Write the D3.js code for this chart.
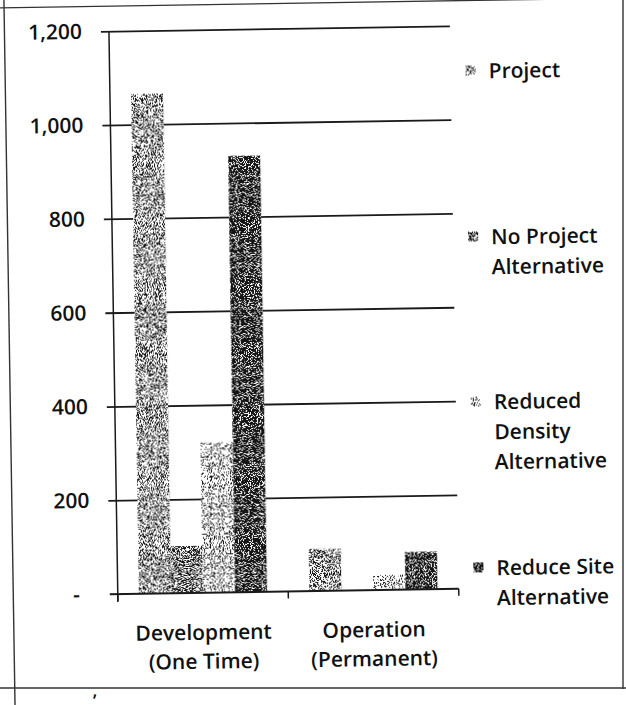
<!DOCTYPE html>
<html>
<head>
<meta charset="utf-8">
<script src="https://cdn.jsdelivr.net/npm/d3@7"></script>
<style>
  html, body { margin: 0; padding: 0; background: #fff; }
  svg { display: block; }
  text { font-family: "Open Sans", "Noto Sans", sans-serif; fill: #111; font-weight: 600; }
</style>
</head>
<body>
<script>
// ---- data ----
const categories = ["Development (One Time)", "Operation (Permanent)"];
const categoryLines = [["Development", "(One Time)"], ["Operation", "(Permanent)"]];
const seriesNames = ["Project", "No Project Alternative", "Reduced Density Alternative", "Reduce Site Alternative"];
const legendLines = [["Project"], ["No Project", "Alternative"], ["Reduced", "Density", "Alternative"], ["Reduce Site", "Alternative"]];
const projectValues = [1065, 90];
const noProjectValues = [100, 0];
const reducedDensityValues = [320, 32];
const reduceSiteValues = [930, 80];
const yTickValues = [0, 200, 400, 600, 800, 1000, 1200];
const yTickLabels = ["-", "200", "400", "600", "800", "1,000", "1,200"];

const seriesValues = [projectValues, noProjectValues, reducedDensityValues, reduceSiteValues];

// ---- layout & style ----
const W = 626, H = 705;
const plot = { left: 114, right: 455, top: 28, bottom: 591 };
const gridStart = 106;
const fontSize = 21;
// noise threshold per series: higher means more ink in the stipple
const inkThreshold = [0.487, 0.522, 0.452, 0.58];
const legendX = 493, swatchX = 470, swatchSize = 10, legendLineH = 30;
const legendRowY = [74, 240, 405, 571];

const svg = d3.select("body").append("svg")
  .attr("width", W).attr("height", H);

// grain filters: thresholded noise gives a stippled fill
const defs = svg.append("defs");
inkThreshold.forEach((t, i) => {
  const K = 30;
  const f = defs.append("filter")
    .attr("id", "grain" + i)
    .attr("x", 0).attr("y", 0).attr("width", 1).attr("height", 1)
    .attr("color-interpolation-filters", "sRGB");
  f.append("feTurbulence")
    .attr("type", "fractalNoise").attr("baseFrequency", 1.1)
    .attr("numOctaves", 1).attr("seed", 3 + i * 7).attr("result", "noise");
  f.append("feColorMatrix")
    .attr("in", "noise").attr("type", "matrix")
    .attr("values", `0 0 0 0 0  0 0 0 0 0  0 0 0 0 0  ${-K} 0 0 0 ${K * t}`)
    .attr("result", "mask");
  f.append("feFlood").attr("flood-color", "#141414").attr("result", "ink");
  f.append("feComposite").attr("in", "ink").attr("in2", "mask")
    .attr("operator", "in").attr("result", "dots");
  f.append("feComposite").attr("in", "dots").attr("in2", "SourceAlpha")
    .attr("operator", "in");
});

// right and bottom page edges stay upright
svg.append("line").attr("x1", 623).attr("x2", 623).attr("y1", 0).attr("y2", 689)
  .attr("stroke", "#333").attr("stroke-width", 1.4);
svg.append("line").attr("x1", 0).attr("x2", 626).attr("y1", 688).attr("y2", 688)
  .attr("stroke", "#333").attr("stroke-width", 1.4);

// the rest of the sheet sits at a slight tilt
const root = svg.append("g").attr("transform", "rotate(-0.9, 313, 352)");

// page frame
const frame = root.append("g").attr("stroke", "#333").attr("stroke-width", 1.4).attr("fill", "none");
frame.append("line").attr("x1", 9.5).attr("x2", 9.5).attr("y1", -10).attr("y2", 720);
frame.append("line").attr("x1", -10).attr("x2", 640).attr("y1", 3).attr("y2", 3);

// scales
const y = d3.scaleLinear().domain([0, 1200]).range([plot.bottom, plot.top]);
const x0 = d3.scaleBand().domain(categories).range([plot.left, plot.right]);
const x1 = d3.scaleBand().domain(seriesNames).range([0, x0.bandwidth()]).paddingOuter(0.664);

// gridlines
const grid = root.append("g")
  .attr("transform", `translate(${gridStart},0)`)
  .call(d3.axisLeft(y).tickValues(yTickValues.slice(1))
    .tickSize(-(plot.right - gridStart)).tickFormat(""));
grid.select(".domain").remove();
grid.selectAll(".tick line").attr("stroke", "#1a1a1a").attr("stroke-width", 1.8);

// y labels
const yLab = root.append("g")
  .attr("transform", `translate(${plot.left},0)`)
  .call(d3.axisLeft(y).tickValues(yTickValues).tickSize(0).tickPadding(27)
    .tickFormat((d, i) => yTickLabels[i]));
yLab.select(".domain").remove();
yLab.selectAll("text")
  .attr("font-size", fontSize)
  .style("font-family", "'Open Sans', sans-serif")
  .style("font-weight", 600)
  .attr("fill", "#111")
  .attr("dx", d => d === 0 ? -11 : 0);

// bars
const groups = root.append("g").selectAll("g")
  .data(categories).join("g")
  .attr("transform", d => `translate(${x0(d)},0)`);

seriesNames.forEach((s, si) => {
  const bars = groups.append("g");
  bars.append("rect")
    .attr("x", x1(s)).attr("width", x1.bandwidth())
    .attr("y", (d, ci) => y(seriesValues[si][ci]))
    .attr("height", (d, ci) => y(0) - y(seriesValues[si][ci]))
    .attr("fill", "#fff");
  bars.append("rect")
    .attr("x", x1(s)).attr("width", x1.bandwidth())
    .attr("y", (d, ci) => y(seriesValues[si][ci]))
    .attr("height", (d, ci) => y(0) - y(seriesValues[si][ci]))
    .attr("fill", "#000")
    .attr("filter", `url(#grain${si})`);
});

// axes lines
root.append("line")
  .attr("x1", plot.left).attr("x2", plot.left)
  .attr("y1", plot.top).attr("y2", plot.bottom + 8)
  .attr("stroke", "#1a1a1a").attr("stroke-width", 1.5);
root.append("line")
  .attr("x1", gridStart).attr("x2", plot.right)
  .attr("y1", plot.bottom).attr("y2", plot.bottom)
  .attr("stroke", "#1a1a1a").attr("stroke-width", 2);
const xTickPos = categories.map(c => x0(c)).concat([plot.right]);
root.append("g").selectAll("line")
  .data(xTickPos).join("line")
  .attr("x1", d => d).attr("x2", d => d)
  .attr("y1", plot.bottom).attr("y2", plot.bottom + 7)
  .attr("stroke", "#1a1a1a").attr("stroke-width", 1.5);

// category labels
root.append("g").selectAll("text")
  .data(categories).join("text")
  .attr("x", d => x0(d) + x0.bandwidth() / 2)
  .attr("y", 638)
  .attr("text-anchor", "middle")
  .attr("font-size", fontSize)
  .each(function (d, i) {
    d3.select(this).selectAll("tspan")
      .data(categoryLines[i]).join("tspan")
      .attr("x", x0(d) + x0.bandwidth() / 2)
      .attr("dy", (t, j) => j === 0 ? 0 : 29)
      .text(t => t);
  });

// legend
const legend = root.append("g");
seriesNames.forEach((s, i) => {
  const rowY = legendRowY[i];
  legend.append("rect")
    .attr("x", swatchX).attr("y", rowY - swatchSize / 2 - 1)
    .attr("width", swatchSize).attr("height", swatchSize)
    .attr("fill", "#000").attr("filter", `url(#grain${i})`);
  legend.append("text")
    .attr("x", legendX).attr("y", rowY + 7)
    .attr("font-size", fontSize)
    .selectAll("tspan").data(legendLines[i]).join("tspan")
    .attr("x", legendX)
    .attr("dy", (t, j) => j === 0 ? 0 : legendLineH)
    .text(t => t);
});

// stray mark at lower left
root.append("text").attr("x", 87).attr("y", 693).attr("font-size", 18).text(",");
</script>
</body>
</html>
